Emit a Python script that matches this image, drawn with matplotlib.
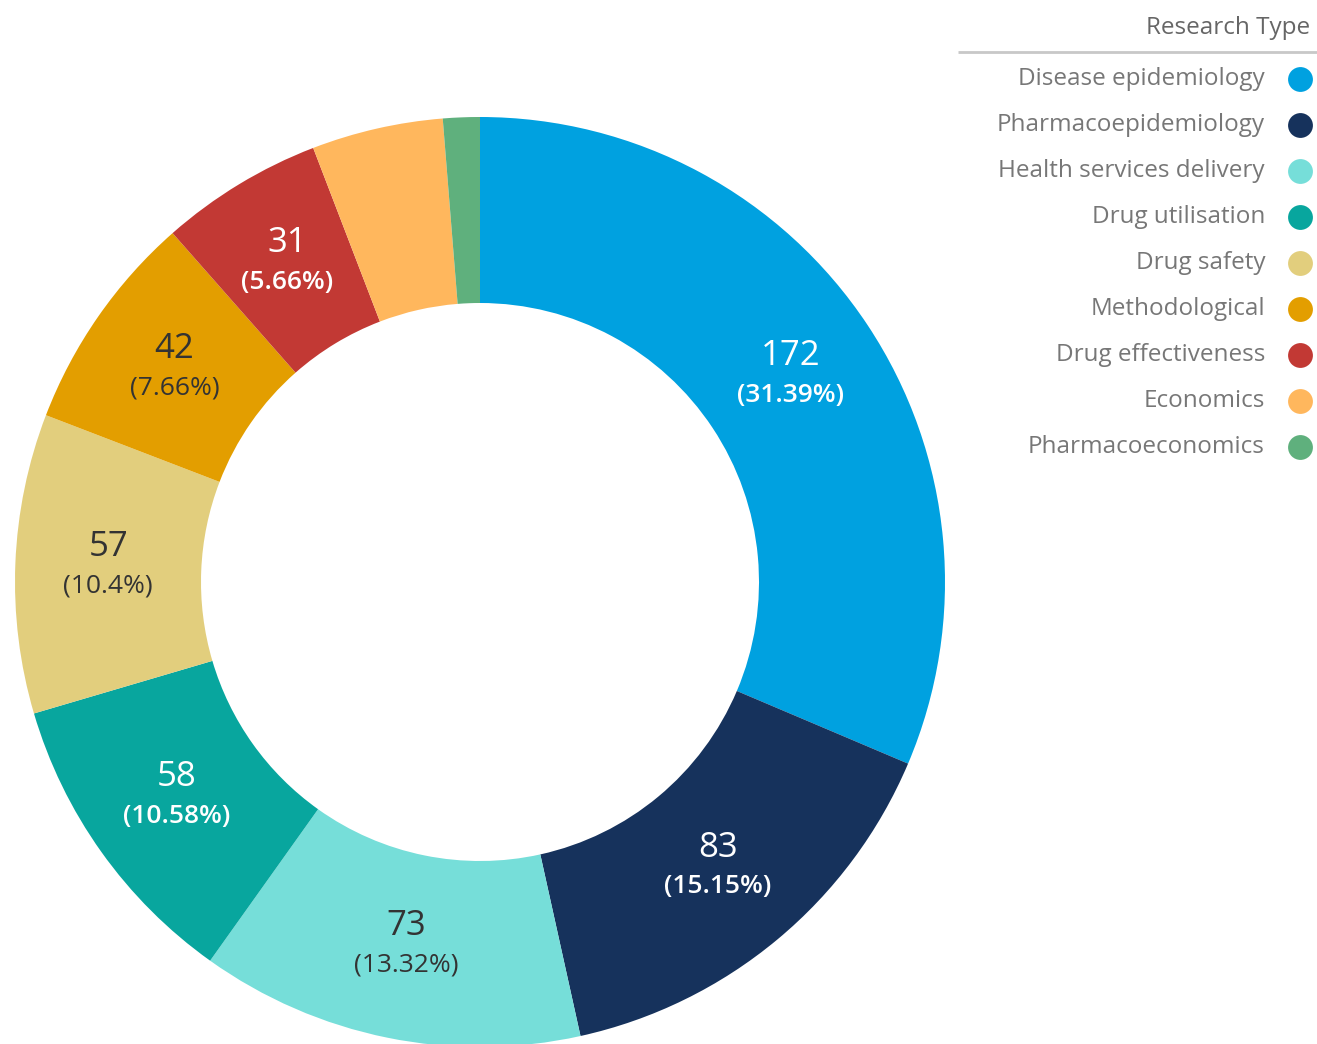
import matplotlib.pyplot as plt
import numpy as np

plt.rcParams['font.family'] = ['Open Sans', 'DejaVu Sans']

# research type counts
categories = ['Disease epidemiology', 'Pharmacoepidemiology', 'Health services delivery',
              'Drug utilisation', 'Drug safety', 'Methodological', 'Drug effectiveness',
              'Economics', 'Pharmacoeconomics']
counts = [172, 83, 73, 58, 57, 42, 31, 25, 7]
colors = ['#00A1E0', '#16325C', '#76DED9', '#08A69E', '#E2CE7D',
          '#E39E00', '#C23934', '#FFB75D', '#5FB07D']
label_colors = ['white', 'white', '#333333', 'white', '#333333',
                '#333333', 'white', None, None]

W, H = 1317, 1044
fig = plt.figure(figsize=(W / 100, H / 100), dpi=100)

# donut axes, placed in pixel terms
cx, cy, R = 480, 582, 465
ax = fig.add_axes([(cx - R) / W, (H - cy - R) / H, 2 * R / W, 2 * R / H])
wedges, _ = ax.pie(counts, colors=colors, startangle=90, counterclock=False,
                   radius=1, wedgeprops=dict(width=0.4, linewidth=0))
ax.set_xlim(-1, 1)
ax.set_ylim(-1, 1)
ax.set_aspect('equal')
ax.axis('off')

total = sum(counts)
for w, n, c in zip(wedges, counts, label_colors):
    if c is None:
        continue
    ang = np.deg2rad((w.theta1 + w.theta2) / 2)
    x, y = 0.8 * np.cos(ang), 0.8 * np.sin(ang)
    pct = f'{100 * n / total:.2f}'.rstrip('0').rstrip('.')
    bold = 'semibold' if c == 'white' else 'normal'
    ax.text(x, y + 0.044, str(n), ha='center', va='center', fontsize=25,
            color=c, fontweight='normal')
    ax.text(x, y - 0.04, f'({pct}%)', ha='center', va='center', fontsize=19,
            color=c, fontweight=bold)

# legend drawn in pixel coordinates
lg = fig.add_axes([0, 0, 1, 1], facecolor='none')
lg.set_xlim(0, W)
lg.set_ylim(H, 0)
lg.axis('off')
lg.text(1310, 28, 'Research Type', ha='right', va='center', fontsize=17.5, color='#666666')
lg.plot([958, 1317], [52, 52], color='#c8c8c8', lw=2, solid_capstyle='butt')
for i, (name, col) in enumerate(zip(categories, colors)):
    yy = 79 + 46 * i
    lg.text(1265, yy, name, ha='right', va='center', fontsize=17.5, color='#777777')
    lg.scatter([1300], [yy], s=320, color=col, linewidths=0)

fig.savefig('out.png', dpi=100)
